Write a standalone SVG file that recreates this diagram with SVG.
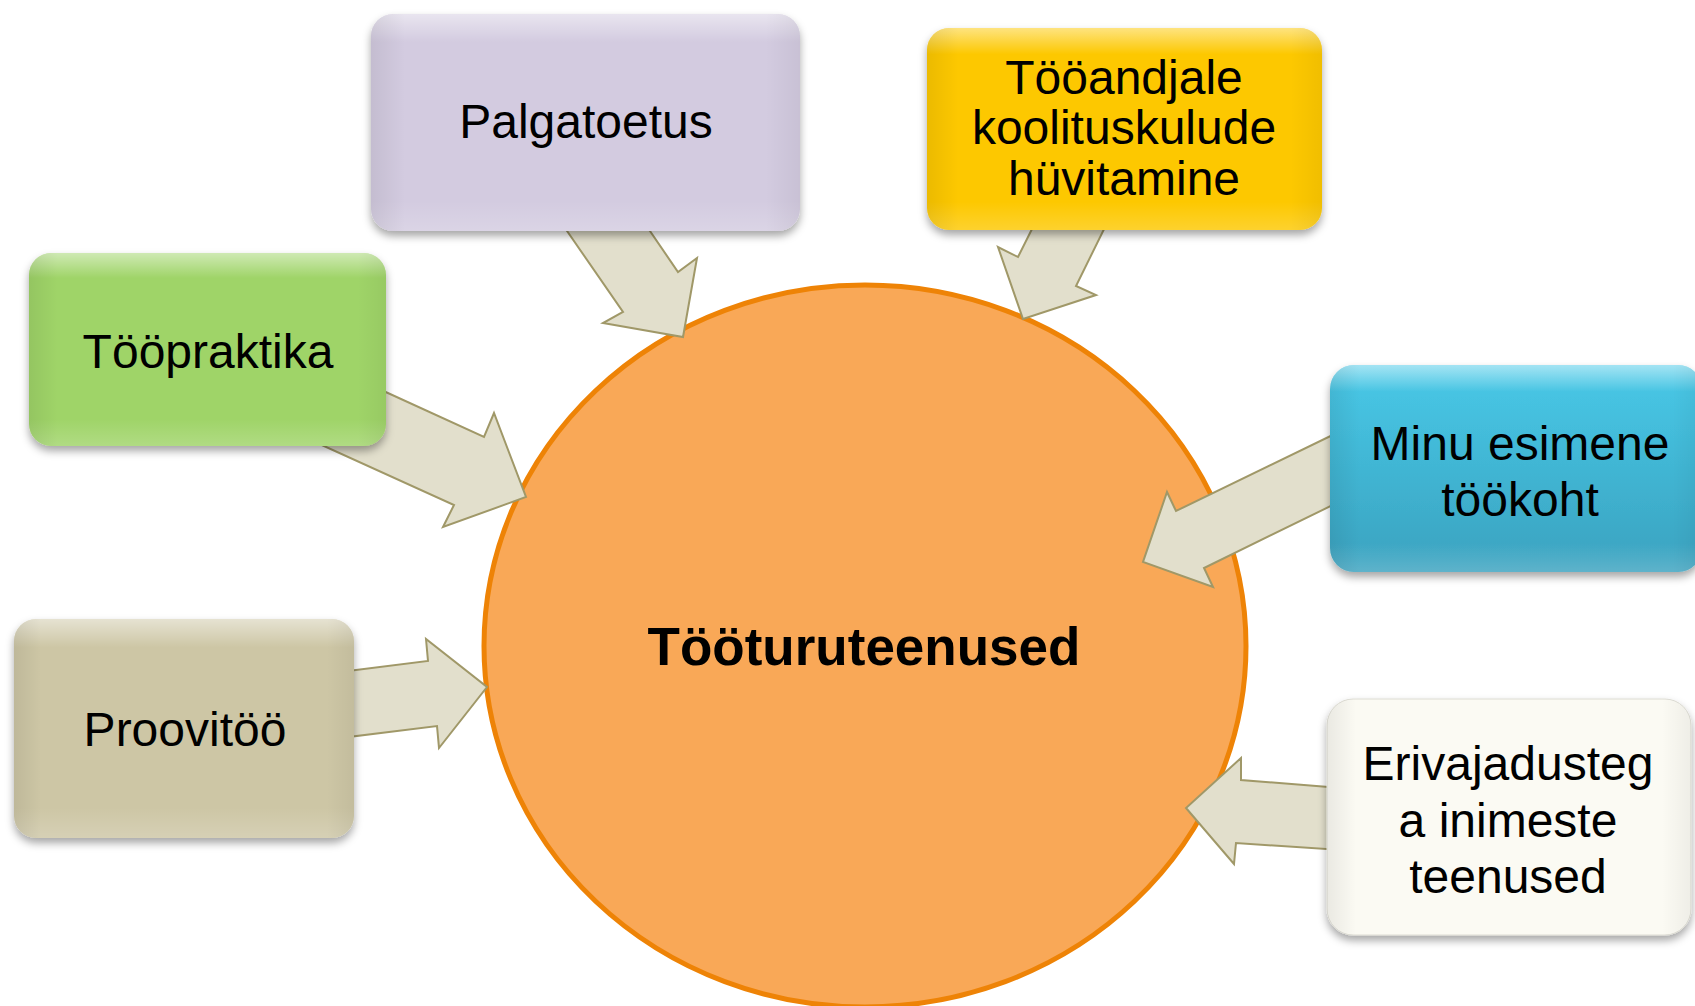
<svg xmlns="http://www.w3.org/2000/svg" width="1695" height="1006" viewBox="0 0 1695 1006">
  <defs>
    <style>
      .lbl { font-family: "Liberation Sans", Arial, sans-serif; font-size: 48px; fill: #000; text-anchor: middle; }
      .title { font-family: "Liberation Sans", Arial, sans-serif; font-size: 53px; font-weight: bold; fill: #000; text-anchor: middle; }
      .arrow { fill: #E2DFCC; stroke: #A09868; stroke-width: 2; stroke-linejoin: miter; }
      .hl { fill: url(#hl); }
      .side { fill: url(#side); }
    </style>
    <filter id="shadow" x="-10%" y="-10%" width="120%" height="130%">
      <feDropShadow dx="0" dy="5" stdDeviation="4" flood-color="#000" flood-opacity="0.35"/>
    </filter>
    <linearGradient id="hl" x1="0" y1="0" x2="0" y2="1">
      <stop offset="0" stop-color="#fff" stop-opacity="0.5"/>
      <stop offset="0.13" stop-color="#fff" stop-opacity="0"/>
      <stop offset="0.86" stop-color="#fff" stop-opacity="0"/>
      <stop offset="1" stop-color="#fff" stop-opacity="0.18"/>
    </linearGradient>
    <linearGradient id="side" x1="0" y1="0" x2="1" y2="0">
      <stop offset="0" stop-color="#000" stop-opacity="0.07"/>
      <stop offset="0.08" stop-color="#000" stop-opacity="0"/>
      <stop offset="0.92" stop-color="#000" stop-opacity="0"/>
      <stop offset="1" stop-color="#000" stop-opacity="0.05"/>
    </linearGradient>
    <linearGradient id="blue" x1="0" y1="0" x2="0" y2="1">
      <stop offset="0" stop-color="#48C9E8"/>
      <stop offset="1" stop-color="#3AA2BF"/>
    </linearGradient>
  </defs>
  <rect width="1695" height="1006" fill="#fff"/>

  <g id="center">
    <ellipse cx="865" cy="646" rx="381" ry="361" fill="#F9A857" stroke="#EE8306" stroke-width="5"/>
    <text class="title" x="864" y="665">Tööturuteenused</text>
  </g>

  <g id="connectors">
    <polygon class="arrow" points="556,215 623,312 603,323 683,337 697,258 678,272 639,215"/>
    <polygon class="arrow" points="1039,215 1018,257 998,247 1023,319 1096,295 1076,286 1111,215"/>
    <polygon class="arrow" points="366,383 484,437 494,413 526,497 443,527 454,505 304,437"/>
    <polygon class="arrow" points="340,672 428,661 426,639 487,687 439,748 437,726 340,738"/>
    <polygon class="arrow" points="1345,429 1176,511 1167,492 1143,562 1213,587 1204,568 1345,499"/>
    <polygon class="arrow" points="1341,788 1241,780 1241,758 1186,808 1234,864 1236,843 1341,850"/>
  </g>

  <g id="palgatoetus">
    <rect x="371" y="14" width="429" height="217" rx="22" fill="#D3CBE0" filter="url(#shadow)"/>
    <rect class="hl" x="371" y="14" width="429" height="217" rx="22"/>
    <rect class="side" x="371" y="14" width="429" height="217" rx="22"/>
    <text class="lbl" x="586" y="138">Palgatoetus</text>
  </g>

  <g id="tooandjale">
    <rect x="927" y="28" width="395" height="202" rx="22" fill="#FDC800" filter="url(#shadow)"/>
    <rect class="hl" x="927" y="28" width="395" height="202" rx="22"/>
    <rect class="side" x="927" y="28" width="395" height="202" rx="22"/>
    <text class="lbl" x="1124" y="94">Tööandjale</text>
    <text class="lbl" x="1124" y="144">koolituskulude</text>
    <text class="lbl" x="1124" y="195">hüvitamine</text>
  </g>

  <g id="toopraktika">
    <rect x="29" y="253" width="357" height="193" rx="22" fill="#9FD467" filter="url(#shadow)"/>
    <rect class="hl" x="29" y="253" width="357" height="193" rx="22"/>
    <rect class="side" x="29" y="253" width="357" height="193" rx="22"/>
    <text class="lbl" x="208" y="368">Tööpraktika</text>
  </g>

  <g id="proovitoo">
    <rect x="14" y="619" width="340" height="219" rx="22" fill="#CDC6A5" filter="url(#shadow)"/>
    <rect class="hl" x="14" y="619" width="340" height="219" rx="22"/>
    <rect class="side" x="14" y="619" width="340" height="219" rx="22"/>
    <text class="lbl" x="185" y="746">Proovitöö</text>
  </g>

  <g id="minu">
    <rect x="1330" y="365" width="372" height="207" rx="24" fill="url(#blue)" filter="url(#shadow)"/>
    <rect class="hl" x="1330" y="365" width="372" height="207" rx="24"/>
    <rect class="side" x="1330" y="365" width="372" height="207" rx="24"/>
    <text class="lbl" x="1520" y="460">Minu esimene</text>
    <text class="lbl" x="1520" y="516">töökoht</text>
  </g>

  <g id="erivajadus">
    <rect x="1327" y="699" width="364" height="236" rx="26" fill="#FBFAF3" stroke="#DDDCD3" stroke-width="1" filter="url(#shadow)"/>
    <rect class="side" x="1327" y="699" width="364" height="236" rx="26"/>
    <text class="lbl" x="1508" y="780">Erivajadusteg</text>
    <text class="lbl" x="1508" y="837">a inimeste</text>
    <text class="lbl" x="1508" y="893">teenused</text>
  </g>
</svg>
